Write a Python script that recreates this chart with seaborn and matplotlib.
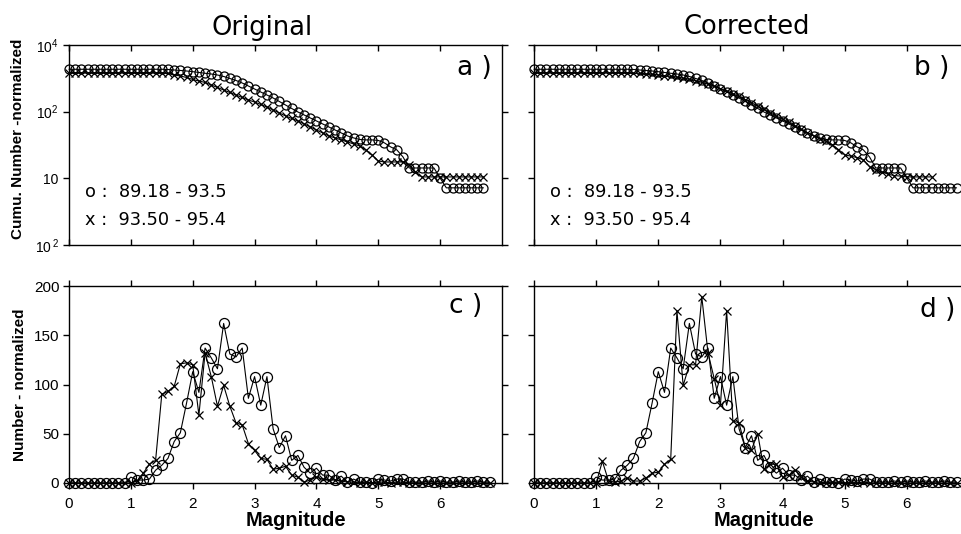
import numpy as np
import matplotlib
matplotlib.use("Agg")
import matplotlib.pyplot as plt
from matplotlib.ticker import NullLocator
import seaborn as sns

nan = np.nan

# magnitude bins (0.1 wide)
magnitude = [0.0, 0.1, 0.2, 0.3, 0.4, 0.5, 0.6, 0.7, 0.8, 0.9,
             1.0, 1.1, 1.2, 1.3, 1.4, 1.5, 1.6, 1.7, 1.8, 1.9,
             2.0, 2.1, 2.2, 2.3, 2.4, 2.5, 2.6, 2.7, 2.8, 2.9,
             3.0, 3.1, 3.2, 3.3, 3.4, 3.5, 3.6, 3.7, 3.8, 3.9,
             4.0, 4.1, 4.2, 4.3, 4.4, 4.5, 4.6, 4.7, 4.8, 4.9,
             5.0, 5.1, 5.2, 5.3, 5.4, 5.5, 5.6, 5.7, 5.8, 5.9,
             6.0, 6.1, 6.2, 6.3, 6.4, 6.5, 6.6, 6.7, 6.8]

# cumulative number, normalized (o: 89.18-93.5, x: 93.50-95.4)
cum_orig_o = [4325, 4325, 4325, 4325, 4325, 4325, 4325, 4325, 4325, 4325,
              4325, 4325, 4325, 4325, 4325, 4325, 4295, 4217, 4150, 4074,
              3981, 3873, 3767, 3673, 3548, 3373, 3148, 2938, 2692, 2427,
              2188, 1972, 1778, 1603, 1422, 1259, 1117, 990, 893, 805,
              726, 655, 590, 532, 480, 433, 404, 383, 377, 377,
              370, 340, 296, 267, 209, 143, 143, 143, 143, 143,
              101, 72, 72, 72, 72, 72, 72, 72, nan]
cum_orig_x = [3846, 3846, 3846, 3846, 3846, 3846, 3846, 3846, 3846, 3846,
              3846, 3846, 3846, 3846, 3846, 3846, 3741, 3548, 3428, 3258,
              3041, 2884, 2742, 2512, 2307, 2113, 1941, 1778, 1633, 1496,
              1396, 1282, 1175, 1059, 957, 863, 791, 726, 655, 590,
              532, 480, 433, 404, 377, 352, 328, 306, 267, 224,
              182, 176, 176, 176, 176, 159, 125, 105, 105, 105,
              105, 105, 105, 105, 105, 105, 105, 105, nan]
cum_corr_o = [4325, 4325, 4325, 4325, 4325, 4325, 4325, 4325, 4325, 4325,
              4325, 4325, 4325, 4325, 4325, 4325, 4295, 4217, 4150, 4074,
              3981, 3873, 3767, 3673, 3548, 3373, 3148, 2938, 2692, 2427,
              2188, 1972, 1778, 1603, 1422, 1259, 1117, 990, 893, 805,
              726, 655, 590, 532, 480, 433, 404, 383, 377, 377,
              370, 340, 296, 267, 209, 143, 143, 143, 143, 143,
              101, 72, 72, 72, 72, 72, 72, 72, 72]
cum_corr_x = [3846, 3846, 3846, 3846, 3846, 3846, 3846, 3846, 3846, 3846,
              3846, 3846, 3846, 3846, 3846, 3846, 3800, 3750, 3690, 3630,
              3550, 3470, 3380, 3280, 3170, 3050, 2900, 2750, 2580, 2400,
              2220, 2040, 1860, 1690, 1520, 1360, 1210, 1080, 960, 860,
              770, 690, 615, 545, 485, 435, 395, 360, 320, 270,
              225, 215, 205, 190, 150, 135, 125, 115, 110, 108,
              105, 105, 105, 105, 105, nan, nan, nan, nan]

# number per bin, normalized
hist_o = [0, 0, 0, 0, 0, 0, 0, 0, 0, 0,
          6, 3, 3, 4, 13, 18, 25, 42, 51, 81,
          113, 92, 137, 127, 116, 162, 131, 128, 137, 86,
          108, 79, 108, 55, 36, 48, 23, 28, 16, 10,
          15, 8, 8, 3, 7, 1, 4, 1, 1, 0,
          4, 3, 2, 4, 4, 1, 1, 1, 2, 1,
          2, 1, 1, 2, 1, 1, 2, 1, 1]
hist_orig_x = [0, 0, 0, 0, 0, 0, 0, 0, 0, 0,
               0, 2, 10, 19, 23, 90, 93, 98, 121, 122,
               120, 69, 132, 108, 78, 99, 78, 61, 59, 40,
               33, 25, 24, 14, 15, 17, 8, 6, 1, 3,
               6, 4, 3, 3, 2, 1, 1, 0, 1, 0,
               1, 1, 0, 1, 1, 0, 0, 0, 0, 0,
               0, 0, 0, 0, 0, 0, 0, 0, 0]
hist_corr_x = [0, 0, 0, 0, 0, 0, 0, 0, 0, 0,
               0, 22, 2, 1, 2, 5, 2, 2, 5, 10,
               11, 19, 24, 175, 99, 120, 120, 189, 132, 106,
               79, 175, 63, 61, 36, 34, 50, 14, 19, 19,
               6, 8, 13, 6, 2, 1, 1, 0, 1, 1,
               0, 1, 0, 1, 0, 0, 0, 0, 0, 0,
               0, 0, 0, 0, 0, 0, 0, 0, 0]

range_o = "o :  89.18 - 93.5"
range_x = "x :  93.50 - 95.4"
log_tick_labels = [r"$\mathregular{10^{\,2}}$", "10",
                   r"$\mathregular{10^{2}}$", r"$\mathregular{10^{4}}$"]

sns.set_style("ticks")
plt.rcParams["font.family"] = ["Liberation Sans", "DejaVu Sans"]
plt.rcParams["mathtext.fontset"] = "custom"
plt.rcParams["mathtext.rm"] = "Liberation Sans"
plt.rcParams["axes.edgecolor"] = "black"
plt.rcParams["axes.linewidth"] = 1.0
plt.rcParams["text.color"] = "black"
plt.rcParams["axes.labelcolor"] = "black"
plt.rcParams["xtick.color"] = "black"
plt.rcParams["ytick.color"] = "black"

W, H = 962, 534
fig = plt.figure(figsize=(W / 100, H / 100), dpi=100)
fig.patch.set_facecolor("white")


def box(left, top, right, bottom):
    return [left / W, 1 - bottom / H, (right - left) / W, (bottom - top) / H]


ax_a = fig.add_axes(box(69, 45, 502, 245))
ax_b = fig.add_axes(box(534, 45, 969, 245))
ax_c = fig.add_axes(box(69, 286, 502, 483))
ax_d = fig.add_axes(box(534, 286, 969, 483))

deco = "DejaVu Sans"


def series(ax, values, marker, ms):
    sns.lineplot(x=magnitude, y=values, ax=ax, color="black", lw=0.8,
                 marker=marker, markersize=ms,
                 markerfacecolor="none" if marker == "o" else "black",
                 markeredgecolor="black", markeredgewidth=0.9,
                 clip_on=False, legend=False, errorbar=None)


for ax, o_vals, x_vals in [(ax_a, cum_orig_o, cum_orig_x),
                           (ax_b, cum_corr_o, cum_corr_x)]:
    ax.set_yscale("log")
    series(ax, x_vals, "x", 5.5)
    series(ax, o_vals, "o", 6.5)
    ax.set_xlim(0, 7)
    ax.set_ylim(10, 1e4)
    ax.set_yticks([1e1, 1e2, 1e3, 1e4])
    ax.yaxis.set_minor_locator(NullLocator())
    ax.set_xticks([0, 1, 2, 3, 4, 5, 6])
    ax.tick_params(axis="x", direction="in", top=True, bottom=True,
                   length=4, width=1, labelbottom=False)
    ax.tick_params(axis="y", direction="out", left=True, right=True,
                   length=4, width=1, labelsize=10)
    ax.text(0.037, 0.265, range_o, transform=ax.transAxes, ha="left",
            va="center", fontsize=12.8, family=deco)
    ax.text(0.037, 0.125, range_x, transform=ax.transAxes, ha="left",
            va="center", fontsize=12.8, family=deco)

ax_a.set_yticklabels(log_tick_labels)
ax_b.tick_params(axis="y", labelleft=False)

for ax, x_vals in [(ax_c, hist_orig_x), (ax_d, hist_corr_x)]:
    series(ax, x_vals, "x", 5.5)
    series(ax, hist_o, "o", 7.2)
    ax.set_xlim(0, 7)
    ax.set_ylim(0, 200)
    ax.set_yticks([0, 50, 100, 150, 200])
    ax.set_xticks([0, 1, 2, 3, 4, 5, 6])
    ax.tick_params(axis="x", direction="out", top=True, bottom=True,
                   length=4, width=1, labelsize=11, pad=6)
    ax.tick_params(axis="y", direction="out", left=True, right=True,
                   length=4, width=1, labelsize=11, pad=3)

ax_d.tick_params(axis="y", labelleft=False)

for ax in (ax_a, ax_b, ax_c, ax_d):
    ax.set_xlabel("")
    ax.set_ylabel("")
    for sp in ax.spines.values():
        sp.set_visible(True)
        sp.set_color("black")

# panel letters
ax_a.text(0.977, 0.85, "a )", transform=ax_a.transAxes, ha="right",
          va="baseline", fontsize=19, family=deco)
ax_b.text(0.956, 0.85, "b )", transform=ax_b.transAxes, ha="right",
          va="baseline", fontsize=19, family=deco)
ax_c.text(0.954, 0.863, "c )", transform=ax_c.transAxes, ha="right",
          va="baseline", fontsize=19, family=deco)
ax_d.text(0.968, 0.843, "d )", transform=ax_d.transAxes, ha="right",
          va="baseline", fontsize=19, family=deco)

# column titles
fig.text(262 / W, 1 - 35 / H, "Original", ha="center", va="baseline",
         fontsize=18.5, family=deco)
fig.text(747 / W, 1 - 34 / H, "Corrected", ha="center", va="baseline",
         fontsize=18.5, family=deco)

# axis titles
fig.text(18 / W, 1 - 139 / H, "Cumu. Number -normalized", rotation=90,
         ha="center", va="center", fontsize=11, weight="bold")
fig.text(20 / W, 1 - 385 / H, "Number - normalized", rotation=90,
         ha="center", va="center", fontsize=11, weight="bold")
fig.text(296 / W, 1 - 521 / H, "Magnitude", ha="center", va="center",
         fontsize=14.5, weight="bold")
fig.text(764 / W, 1 - 521 / H, "Magnitude", ha="center", va="center",
         fontsize=14.5, weight="bold")

fig.savefig("out.png", dpi=100, facecolor="white")
